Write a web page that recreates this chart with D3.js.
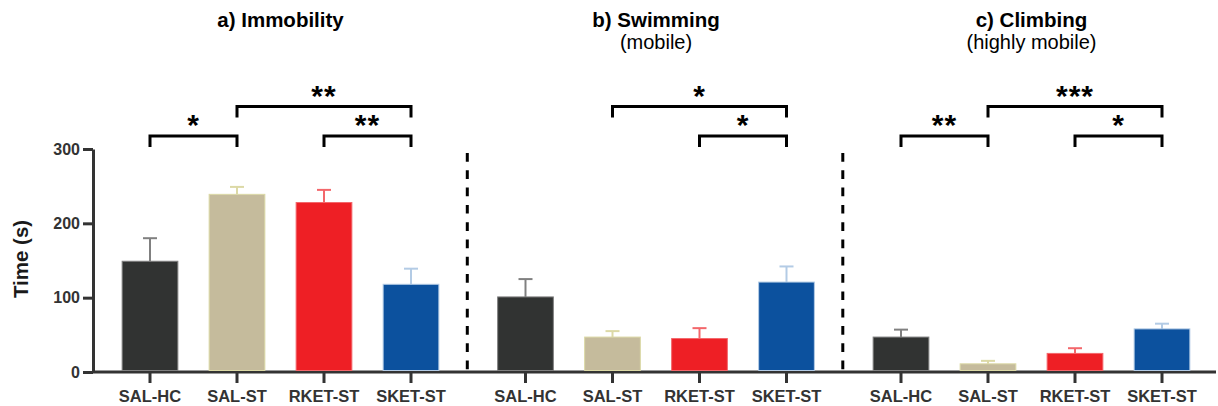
<!DOCTYPE html>
<html>
<head>
<meta charset="utf-8">
<script src="https://cdn.jsdelivr.net/npm/d3@7"></script>
<style>
  html, body { margin: 0; padding: 0; background: #fff; }
  svg { display: block; font-family: "Liberation Sans", Arial, sans-serif; }
</style>
</head>
<body>
<svg id="chart" width="1218" height="406"></svg>
<script>
// ---- data ----
const groups = ["SAL-HC", "SAL-ST", "RKET-ST", "SKET-ST"];
const panelIds = ["a", "b", "c"];
const panelTitles = ["a) Immobility", "b) Swimming", "c) Climbing"];
const panelSubtitles = ["", "(mobile)", "(highly mobile)"];
const immobility = [149, 239, 228, 118];
const immobilityErr = [31, 10, 17, 21];
const swimming = [101, 47, 45, 121];
const swimmingErr = [24, 8, 14, 21];
const climbing = [47, 11, 25, 58];
const climbingErr = [10, 4, 7, 7];
const yTicks = [0, 100, 200, 300];
const yLabel = "Time (s)";
// significance: [fromGroup, toGroup, level, stars]
const sigA = [["SAL-HC", "SAL-ST", 0, "*"], ["SAL-ST", "SKET-ST", 1, "**"], ["RKET-ST", "SKET-ST", 0, "**"]];
const sigB = [["SAL-ST", "SKET-ST", 1, "*"], ["RKET-ST", "SKET-ST", 0, "*"]];
const sigC = [["SAL-HC", "SAL-ST", 0, "**"], ["SAL-ST", "SKET-ST", 1, "***"], ["RKET-ST", "SKET-ST", 0, "*"]];

// ---- style ----
const barColors = ["#313332", "#C5BB9C", "#EE1F25", "#0C519E"];
const errColors = ["#808080", "#DCD9A6", "#F3676B", "#B3CBE5"];
const axisColor = "#333333";

const panelValues = [immobility, swimming, climbing];
const panelErrs = [immobilityErr, swimmingErr, climbingErr];
const panelSigs = [sigA, sigB, sigC];

const svg = d3.select("#chart");

const y = d3.scaleLinear().domain([0, 300]).range([372, 149]);
const panelScale = d3.scaleBand().domain(panelIds).range([106.5, 106.5 + 3 * 375.5]);
const x = d3.scaleBand().domain(groups).range([0, 348]).paddingInner(0.348).paddingOuter(0.174);

const axisLeftX = 93;

// y axis
const yAxis = svg.append("g")
  .attr("transform", `translate(${axisLeftX},0)`)
  .call(d3.axisLeft(y).tickValues(yTicks).tickSize(10).tickSizeOuter(0).tickPadding(3));
yAxis.select(".domain").attr("stroke", axisColor).attr("stroke-width", 3);
yAxis.selectAll(".tick line").attr("stroke", axisColor).attr("stroke-width", 3);
yAxis.selectAll(".tick text")
  .attr("fill", axisColor).attr("font-size", 16).attr("font-weight", "bold")
  .attr("font-family", "Liberation Sans, Arial, sans-serif");

svg.append("text")
  .attr("transform", `translate(28,259) rotate(-90)`)
  .attr("text-anchor", "middle")
  .attr("font-size", 20.5).attr("font-weight", "bold").attr("fill", "#1a1a1a")
  .text(yLabel);

// baseline
svg.append("line")
  .attr("x1", axisLeftX).attr("x2", 1216)
  .attr("y1", y(0)).attr("y2", y(0))
  .attr("stroke", axisColor).attr("stroke-width", 3);

panelIds.forEach((pid, pi) => {
  const px = panelScale(pid);
  const g = svg.append("g").attr("transform", `translate(${px},0)`);
  const vals = panelValues[pi];
  const errs = panelErrs[pi];
  const center = g0 => x(g0) + x.bandwidth() / 2;

  // separator dashed line
  if (pi > 0) {
    g.append("line")
      .attr("x1", -14.7).attr("x2", -14.7)
      .attr("y1", 153).attr("y2", y(0))
      .attr("stroke", "#000").attr("stroke-width", 3)
      .attr("stroke-dasharray", "8.7 8.6");
  }

  // error bars (behind bars)
  const eb = g.selectAll(".err").data(groups).enter().append("g");
  eb.append("line")
    .attr("x1", d => center(d)).attr("x2", d => center(d))
    .attr("y1", (d, i) => y(vals[i])).attr("y2", (d, i) => y(vals[i] + errs[i]))
    .attr("stroke", (d, i) => errColors[i]).attr("stroke-width", 2);
  eb.append("line")
    .attr("x1", d => center(d) - 7).attr("x2", d => center(d) + 7)
    .attr("y1", (d, i) => y(vals[i] + errs[i])).attr("y2", (d, i) => y(vals[i] + errs[i]))
    .attr("stroke", (d, i) => errColors[i]).attr("stroke-width", 2);

  // bars
  g.selectAll(".bar").data(groups).enter().append("rect")
    .attr("x", d => x(d) + 0.5)
    .attr("width", x.bandwidth() - 1)
    .attr("y", (d, i) => y(vals[i]))
    .attr("height", (d, i) => y(0) - y(vals[i]) - 1.5)
    .attr("fill", (d, i) => barColors[i])
    .attr("stroke", (d, i) => errColors[i]).attr("stroke-width", 1);

  // x axis
  const xa = g.append("g").attr("transform", `translate(0,${y(0)})`)
    .call(d3.axisBottom(x).tickSize(11).tickSizeOuter(0).tickPadding(7));
  xa.select(".domain").remove();
  xa.selectAll(".tick line").attr("stroke", axisColor).attr("stroke-width", 3);
  xa.selectAll(".tick text")
    .attr("fill", axisColor).attr("font-size", 16.5).attr("font-weight", "bold")
    .attr("font-family", "Liberation Sans, Arial, sans-serif");

  // titles
  const cx = (center(groups[0]) + center(groups[groups.length - 1])) / 2;
  g.append("text").attr("x", cx).attr("y", 26.5)
    .attr("text-anchor", "middle").attr("font-size", 20.5).attr("font-weight", "bold").attr("fill", "#000")
    .text(panelTitles[pi]);
  if (panelSubtitles[pi]) {
    g.append("text").attr("x", cx).attr("y", 49)
      .attr("text-anchor", "middle").attr("font-size", 20).attr("fill", "#000")
      .text(panelSubtitles[pi]);
  }

  // significance brackets
  const levelY = [136, 106.5];
  panelSigs[pi].forEach(([a, b, lvl, stars]) => {
    const x1 = center(a), x2 = center(b), ly = levelY[lvl];
    g.append("path")
      .attr("d", `M${x1},${ly + 11}V${ly}H${x2}V${ly + 11}`)
      .attr("fill", "none").attr("stroke", "#000").attr("stroke-width", 3)
      .attr("stroke-linejoin", "miter");
    g.append("text")
      .attr("x", (x1 + x2) / 2).attr("y", ly - 1)
      .attr("text-anchor", "middle").attr("font-size", 30).attr("font-weight", "bold")
      .attr("fill", "#000").attr("letter-spacing", 1)
      .text(stars);
  });
});
</script>
</body>
</html>
